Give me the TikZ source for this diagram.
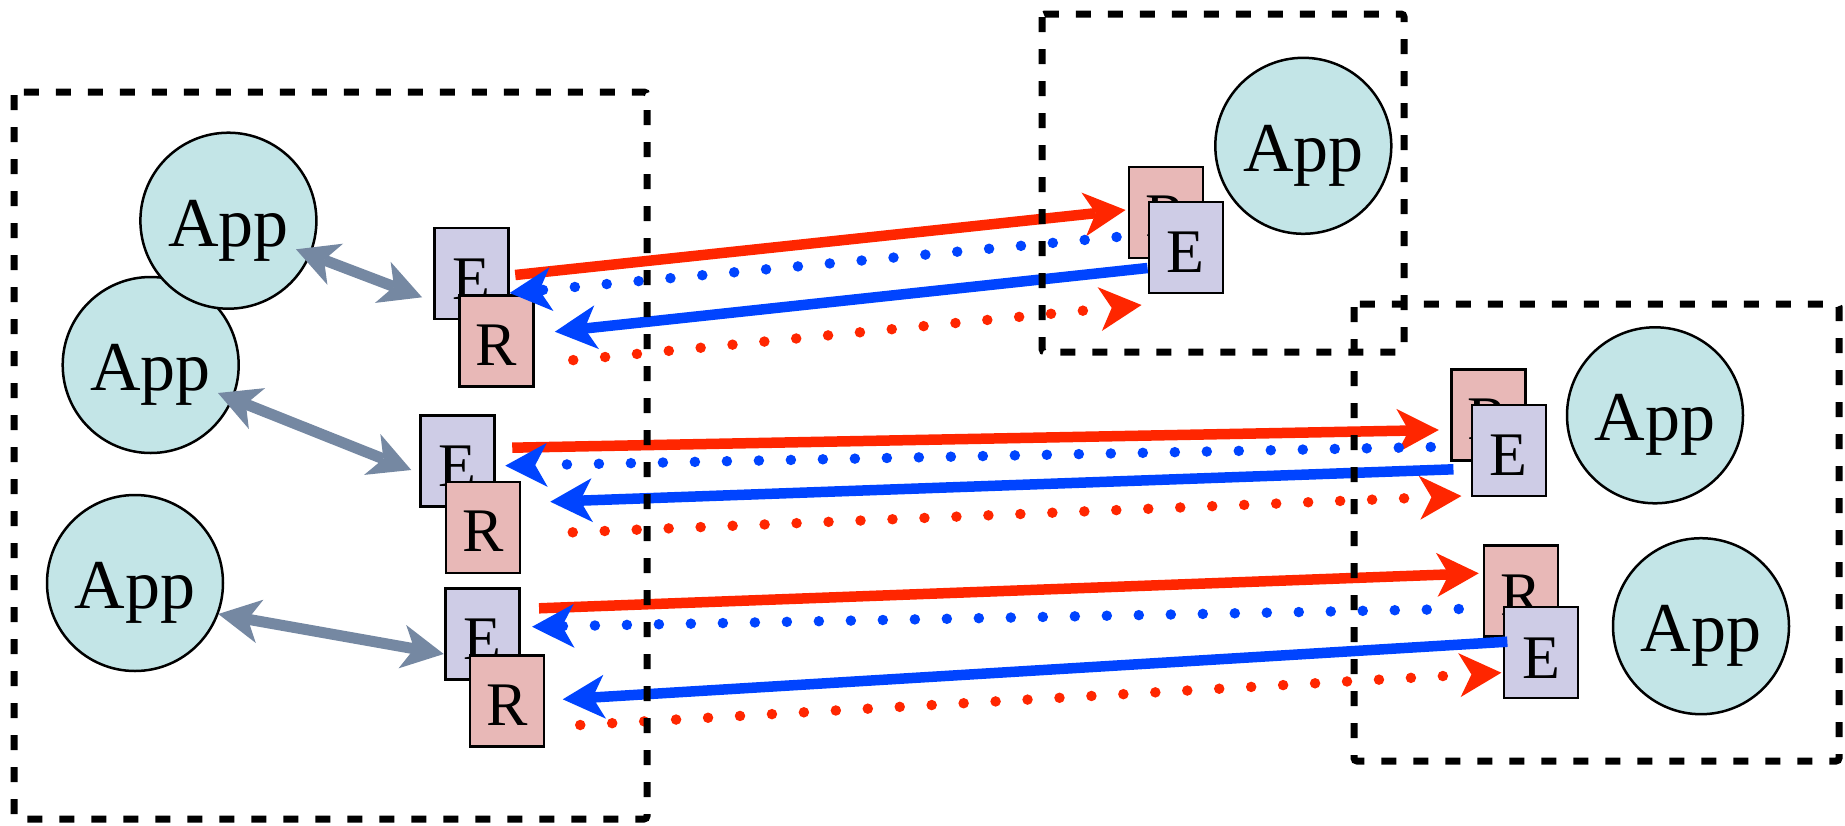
\documentclass[tikz,border=0pt]{standalone}
\usepackage{fontspec}
\setmainfont{Liberation Serif}
\usetikzlibrary{arrows.meta,calc}
\definecolor{appfill}{HTML}{C3E5E7}
\definecolor{efill}{HTML}{CECCE6}
\definecolor{rfill}{HTML}{E8B8B7}
\definecolor{redline}{HTML}{FF2600}
\definecolor{blueline}{HTML}{0044FF}
\definecolor{grayline}{HTML}{7588A2}
\newcommand\lowerby[2]{\raisebox{-#1}[\height][\depth]{#2}}
\begin{document}
\begin{tikzpicture}[x=1pt,y=-1pt,
  app/.style={circle,draw=black,line width=2.5pt,fill=appfill,minimum size=176pt,inner sep=0pt,font=\fontsize{70}{70}\selectfont},
  ebox/.style={rectangle,draw=black,line width=2.5pt,fill=efill,minimum width=74pt,minimum height=91pt,inner sep=0pt,font=\fontsize{62}{62}\selectfont},
  rbox/.style={ebox,fill=rfill},
  bigtip/.tip={Stealth[length=42pt,width=44pt,inset=12pt,line width=0pt]},
  solidred/.style={draw=redline,line width=10.5pt,-{bigtip}},
  solidblue/.style={draw=blueline,line width=10.5pt,-{bigtip}},
  dotred/.style={draw=redline,line width=10.5pt,line cap=round,dash pattern=on 0pt off 32pt,-{bigtip}},
  dotblue/.style={draw=blueline,line width=10.5pt,line cap=round,dash pattern=on 0pt off 32pt,-{bigtip}},
  duplex/.style={draw=grayline,line width=11pt,{bigtip}-{bigtip}},
  frame/.style={draw=black,line width=7pt,dash pattern=on 15pt off 17pt,rounded corners=3pt}
]
\useasboundingbox (0,0) rectangle (1845,825);

% applications
\node[app] (A2) at (150.7,365) {\lowerby{10pt}{App}};
\node[app] (A1) at (228.4,220.7) {\lowerby{10pt}{App}};
\node[app] (A3) at (135,583) {\lowerby{10pt}{App}};
\node[app] (At) at (1303.3,145.8) {\lowerby{10pt}{App}};
\node[app] (Ab1) at (1655,415.3) {\lowerby{10pt}{App}};
\node[app] (Ab2) at (1701,626.2) {\lowerby{10pt}{App}};

% left E/R pairs
\node[ebox] (E1) at (471.4,273.7) {\lowerby{5pt}{E}};
\node[rbox] (R1) at (496.6,341.1) {\lowerby{4pt}{R}};
\node[ebox] (E2) at (457.4,460.9) {\lowerby{5pt}{E}};
\node[rbox] (R2) at (482.9,527.3) {\lowerby{4pt}{R}};
\node[ebox] (E3) at (482.3,634.2) {\lowerby{5pt}{E}};
\node[rbox] (R3) at (506.9,700.8) {\lowerby{4pt}{R}};

% right R/E pairs
\node[rbox] (Rt) at (1165.8,212.5) {\lowerby{4pt}{R}};
\node[ebox] (Et) at (1185.8,247.5) {\lowerby{5pt}{E}};
\node[rbox] (Rb1) at (1488.6,415) {\lowerby{4pt}{R}};
\node[ebox] (Eb1) at (1508.9,450.3) {\lowerby{5pt}{E}};
\node[rbox] (Rb2) at (1520.9,591) {\lowerby{4pt}{R}};
\node[ebox] (Eb2) at (1541,652.7) {\lowerby{5pt}{E}};

% app <-> endpoint
\draw[duplex] ($(A1.center)+(67.6,28.6)$) -- ($(E1.west)+(-11.1,23.6)$);
\draw[duplex] ($(A2.center)+(67.3,28)$) -- ($(E2.west)+(-7.9,9.1)$);
\draw[duplex] ($(A3.center)+(83.3,31)$) -- ($(E3.west)+(-0.3,19.8)$);

% pair 1
\draw[solidred] ($(E1.east)+(5.6,1.3)$) -- ($(Rt.west)+(-2,-2.5)$);
\draw[dotblue] ($(Rt.west)+(-11,24.5)$) -- ($(E1.east)+(0,19.3)$);
\draw[solidblue] ($(Et.west)+(0,20.5)$) -- ($(R1.east)+(20,-9.4)$);
\draw[dotred] ($(R1.east)+(38.4,19)$) -- ($(Et.west)+(-6,57.5)$);

% pair 2
\draw[solidred] ($(E2.east)+(16.6,-13.2)$) -- ($(Rb1.west)+(-11.6,15)$);
\draw[dotblue] ($(Rb1.west)+(-19.6,32)$) -- ($(E2.east)+(9.6,4.8)$);
\draw[solidblue] ($(Eb1.west)+(-17.2,19)$) -- ($(R2.east)+(29.1,-25.6)$);
\draw[dotred] ($(R2.east)+(51.6,5)$) -- ($(Eb1.west)+(-9.2,45.7)$);

% pair 3
\draw[solidred] ($(E3.east)+(18.5,-25.9)$) -- ($(Rb2.west)+(-3.9,-17.7)$);
\draw[dotblue] ($(Rb2.west)+(-23.9,18)$) -- ($(E3.east)+(11.6,-7.5)$);
\draw[solidblue] ($(Eb2.west)+(4.6,-11)$) -- ($(R3.east)+(17.6,-1.5)$);
\draw[dotred] ($(R3.east)+(35.1,24.2)$) -- ($(Eb2.west)+(-1.4,20)$);

% hosts
\draw[frame] (14,92) rectangle (647,819);
\draw[frame] (1042,14) rectangle (1404,352);
\draw[frame] (1354,304) rectangle (1839,761);
\end{tikzpicture}
\end{document}
